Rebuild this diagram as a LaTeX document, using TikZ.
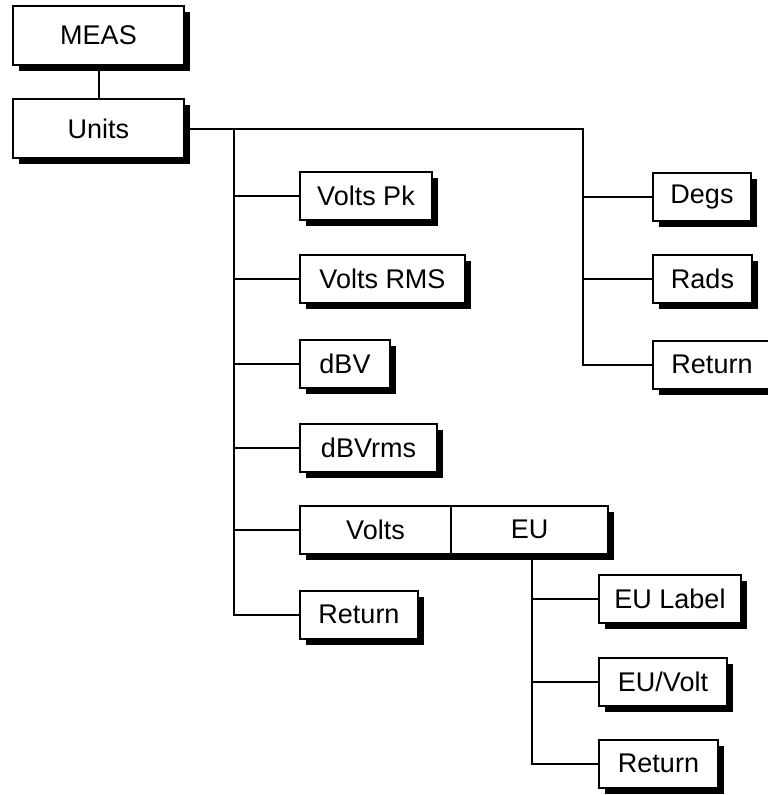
\documentclass[tikz,border=0pt]{standalone}
\usepackage{fontspec}
\setmainfont{Liberation Sans}
\usetikzlibrary{shadows}

\tikzset{
  menu/.style={draw, line width=2pt, fill=white, inner sep=0pt,
    minimum height=48pt, font=\fontsize{27}{32}\selectfont,
    drop shadow={shadow xshift=6pt, shadow yshift=-6pt, fill=black, opacity=1}},
  link/.style={line width=2pt}
}

\begin{document}
\begin{tikzpicture}[x=1pt, y=-1pt]
        \useasboundingbox (0,0) rectangle (768,795);

        \node[menu, minimum width=171pt, minimum height=59pt] (meas)  at (98.5,35.5)  {MEAS};
        \node[menu, minimum width=171pt, minimum height=59pt] (units) at (98.5,128.5) {Units};

        \node[menu, minimum width=132pt] (vpk)    at (366,196)   {Volts Pk};
        \node[menu, minimum width=165pt] (vrms)   at (382.5,279) {Volts RMS};
        \node[menu, minimum width=90pt]  (dbv)    at (345,364)   {dBV};
        \node[menu, minimum width=137pt] (dbvrms) at (368.5,447.5) {dBVrms};
        \node[menu, minimum width=151pt] (volts)  at (375.5,529.5) {Volts};
        \node[menu, minimum width=157pt] (eu)     at (529.5,529.5) {EU};
        \node[menu, minimum width=118pt] (ret1)   at (359,614.5) {Return};

        \node[menu, minimum width=98pt]  (degs)   at (702,197)   {Degs};
        \node[menu, minimum width=99pt]  (rads)   at (702.5,279) {Rads};
        \node[menu, minimum width=118pt] (ret2)   at (712,364.5) {Return};

        \node[menu, minimum width=142pt] (eulab)  at (670,598.5) {EU Label};
        \node[menu, minimum width=128pt] (euvolt) at (663,681.5) {EU/Volt};
        \node[menu, minimum width=119pt] (ret3)   at (658.5,763.5) {Return};

        % junctions
        \coordinate (ja) at (234,128.5);
        \coordinate (jb) at (583,128.5);
        \coordinate (jc) at (532,554);

        \draw[link] (meas) -- (units);
        \draw[link] (units.east) -- (jb) |- (ret2.west);
        \draw[link] (ja) |- (ret1.west);
        \foreach \n in {vpk,vrms,dbv,dbvrms,volts}
          \draw[link] (ja |- \n) -- (\n.west);
        \foreach \n in {degs,rads}
          \draw[link] (jb |- \n) -- (\n.west);
        \draw[link] (jc) |- (ret3.west);
        \foreach \n in {eulab,euvolt}
          \draw[link] (jc |- \n) -- (\n.west);
\end{tikzpicture}
\end{document}
